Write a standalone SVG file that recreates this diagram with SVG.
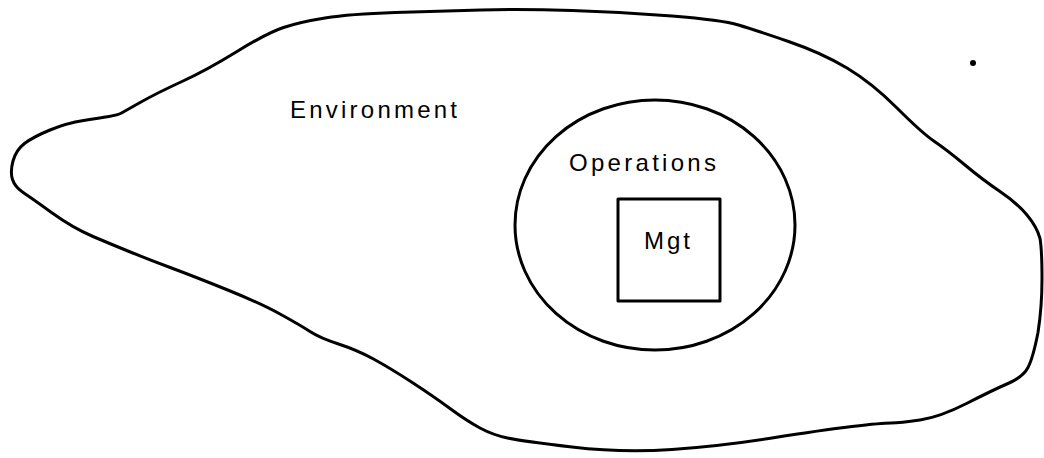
<svg xmlns="http://www.w3.org/2000/svg" width="1044" height="458" viewBox="0 0 1044 458">
  <style>
    .outline { fill: none; stroke: #000; stroke-width: 3; stroke-linejoin: round; stroke-linecap: round; }
    .label { font-family: "Liberation Sans", Arial, sans-serif; font-size: 24px; fill: #000; }
  </style>
  <rect width="1044" height="458" fill="#fff"/>

  <!-- Environment: free-form boundary -->
  <g id="environment">
    <path class="outline" stroke-width="3.5" d="M12.5,179.5
      Q10,172 13,161 Q16,150 24.5,143.5 Q33,137 50,130 Q67,123 83.5,120.5
      Q100,118 109,116.5 Q118,115 121.5,113 Q125,111 141,102 Q157,93 182,81.5
      Q207,70 237,51.5 Q267,33 283.5,27.5 Q300,22 325,18 Q350,14 395,12.5
      Q440,11 481,10 Q522,9 572,10.5 Q622,12 672,16 Q722,20 738.5,25
      Q755,30 788.5,41.5 Q822,53 847,68 Q872,83 897,108 Q922,133 934.5,141.5
      Q947,150 965,165 Q983,180 1000,191.5 Q1017,203 1027,215 Q1037,227 1040,238.5
      Q1042,250 1042,278.5 Q1042,307 1038,332.5 Q1033,358 1028,367.5 Q1023,377 1008,383.5
      Q993,390 966.5,403.5 Q940,417 920,420 Q900,423 891,423 Q882,423 852,426.5
      Q822,430 772,438 Q722,446 672,449.5 Q622,453 572,447 Q522,441 507.5,438
      Q493,435 480,428 Q467,421 450,408.5 Q433,396 411.5,382 Q390,368 373.5,359
      Q357,350 338.5,344 Q320,338 310,331.5 Q300,325 280,314 Q260,303 226.5,289.5
      Q193,276 171.5,268 Q150,260 131.5,252.5 Q113,245 93,236.5 Q73,228 51.5,212.5
      Q30,197 22.5,192 Q15,187 12.5,179.5 Z"/>
    <text class="label" x="290" y="118" textLength="167" lengthAdjust="spacing">Environment</text>
  </g>

  <!-- Operations: ellipse inside the environment -->
  <g id="operations">
    <ellipse class="outline" cx="655" cy="225" rx="140" ry="125"/>
    <text class="label" x="569" y="171" textLength="147" lengthAdjust="spacing">Operations</text>
  </g>

  <!-- Management: square inside operations -->
  <g id="mgt">
    <rect class="outline" x="618" y="199" width="102" height="102" stroke-width="3.5"/>
    <text class="label" x="644" y="249" textLength="46" lengthAdjust="spacing">Mgt</text>
  </g>

  <!-- stray mark -->
  <circle cx="973" cy="63" r="3" fill="#000"/>

  <g id="connectors"/>
</svg>
